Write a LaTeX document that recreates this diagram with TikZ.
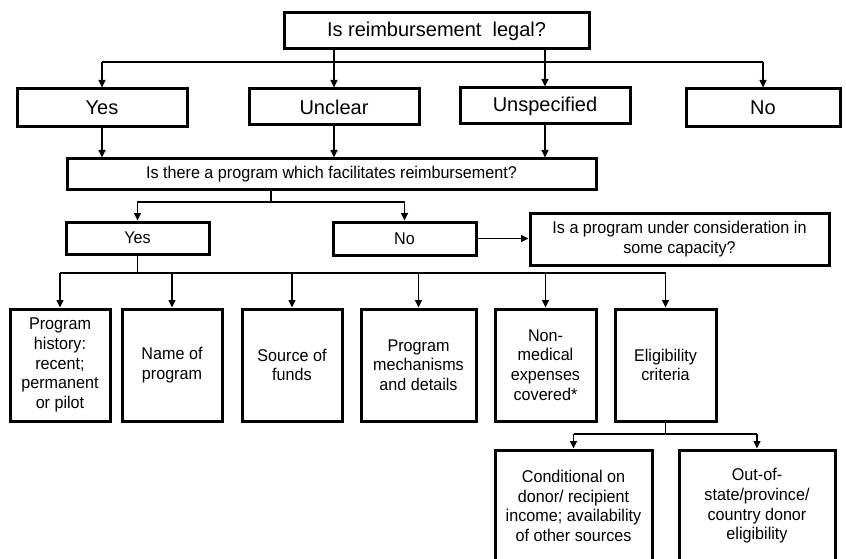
\documentclass[tikz,border=0pt]{standalone}
\usepackage{fontspec}
\setmainfont{Liberation Sans}
\newfontfamily\narrowsans[FakeStretch=0.95]{Liberation Sans}
\usetikzlibrary{arrows.meta,calc}
\begin{document}
\begin{tikzpicture}[x=1pt,y=-1pt,
  box/.style={draw=black, line width=3pt, inner sep=0pt, align=center, fill=white},
  big/.style={font=\fontsize{20}{24}\selectfont},
  small/.style={font=\narrowsans\fontsize{17}{19.6}\selectfont},
  arr/.style={line width=1.3pt, -{Triangle[length=7.5pt,width=7pt]}},
  ln/.style={line width=1.3pt}]
\useasboundingbox (0,0) rectangle (846,559);
\clip (0,0) rectangle (846,559);
% level 0
\node[box,big,minimum width=305pt,minimum height=36pt] (top) at (436.5,31) {Is reimbursement\ \ legal?};
% level 1
\node[box,big,minimum width=170pt,minimum height=38pt] (yes1) at (102,108) {Yes};
\node[box,big,minimum width=170pt,minimum height=36pt] (unclear) at (334,107) {Unclear};
\node[box,big,minimum width=170pt,minimum height=36pt] (unspec) at (545,106) {Unspecified};
\node[box,big,minimum width=154pt,minimum height=38pt] (no1) at (763,108) {No};
% level 2
\node[box,small,minimum width=529pt,minimum height=30pt] (q2) at (331.5,174) {Is there a program which facilitates reimbursement?};
% level 3
\node[box,small,minimum width=143pt,minimum height=32pt] (yes2) at (137.5,238) {Yes};
\node[box,small,minimum width=143pt,minimum height=33pt] (no2) at (404.5,238.5) {No};
\node[box,small,minimum width=299pt,minimum height=52pt] (consid) at (679.5,239) {Is a program under consideration in\\some capacity?};
% level 4
\node[box,small,minimum width=100pt,minimum height=112pt] (c1) at (60,365) {Program\\history:\\recent;\\permanent\\or pilot};
\node[box,small,minimum width=100pt,minimum height=112pt] (c2) at (172,365) {Name of\\program};
\node[box,small,minimum width=100pt,minimum height=112pt] (c3) at (292,365) {Source of\\funds};
\node[box,small,minimum width=115pt,minimum height=112pt] (c4) at (418.5,365) {Program\\mechanisms\\and details};
\node[box,small,minimum width=101pt,minimum height=112pt] (c5) at (545.5,365) {Non-\\medical\\expenses\\covered*};
\node[box,small,minimum width=101pt,minimum height=112pt] (c6) at (665.5,365) {Eligibility\\criteria};
% level 5
\node[box,small,minimum width=157pt,minimum height=112pt] (c7) at (573.5,506) {Conditional on\\donor/ recipient\\income; availability\\of other sources};
\node[box,small,minimum width=156pt,minimum height=112pt] (c8) at (757,506) {Out-of-\\state/province/\\country donor\\eligibility};
% connectors level 0 -> 1
\coordinate (h1) at (0,62);
\draw[ln] (h1 -| yes1) -- (h1 -| no1);
\draw[arr] (h1 -| yes1) -- (yes1.north);
\draw[arr] (h1 -| no1) -- (no1.north);
\draw[arr] (top.south -| unclear) -- (unclear.north);
\draw[arr] (top.south -| unspec) -- (unspec.north);
% level 1 -> 2
\draw[arr] (yes1.south) -- (yes1.south |- q2.north);
\draw[arr] (unclear.south) -- (unclear.south |- q2.north);
\draw[arr] (unspec.south) -- (unspec.south |- q2.north);
% level 2 -> 3
\coordinate (h2) at (271,202);
\draw[ln] (q2.south -| h2) -- (h2);
\draw[arr] (h2) -| (yes2.north);
\draw[arr] (h2) -| (no2.north);
\draw[arr] (no2.east) -- (no2.east -| consid.west);
% level 3 -> 4
\coordinate (h3) at (0,273);
\draw[ln] (yes2.south) -- (yes2.south |- h3);
\draw[ln] (h3 -| c1) -- (h3 -| c6);
\foreach \c in {c1,c2,c3,c4,c5,c6}{
  \draw[arr] (h3 -| \c) -- (\c.north);
}
% level 4 -> 5
\coordinate (h4) at (0,434);
\draw[ln] (c6.south) -- (c6.south |- h4);
\draw[ln] (h4 -| c7) -- (h4 -| c8);
\draw[arr] (h4 -| c7) -- (c7.north);
\draw[arr] (h4 -| c8) -- (c8.north);
\end{tikzpicture}
\end{document}
